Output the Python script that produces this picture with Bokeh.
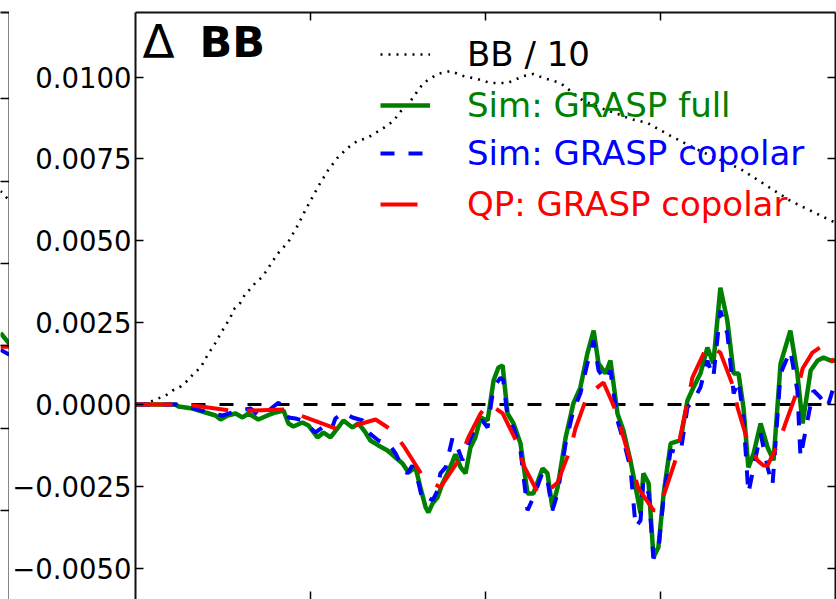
from bokeh.plotting import figure
from bokeh.models import (Range1d, LinearAxis, FixedTicker, Span, Legend, LegendItem,
                          Label, CustomJSTickFormatter)
from bokeh.layouts import row
from bokeh.embed import file_html
from bokeh.resources import INLINE

SCALE = 1e-4  # all series values below are in units of 1e-4

# ---- BB / 10 (dotted) ----
bb_ell = [0, 29, 57, 86, 106, 129, 149, 166, 186, 200, 214, 229, 243, 257, 271, 280, 300, 314,
          329, 343, 363, 406, 437, 463, 486, 500, 523, 551, 577, 606, 634, 663, 709, 737, 763,
          786, 806, 823, 863, 900, 937, 977, 1014, 1063, 1109, 1137, 1166, 1214, 1243, 1280,
          1329, 1377, 1414, 1463, 1529, 1614, 1729, 1871, 2000]
bb_val = [0, 0.30, 1.52, 2.74, 4.27, 5.49, 7.32, 9.45, 11.28, 14.03, 16.46, 18.90, 21.65, 24.09,
          26.53, 28.97, 31.10, 33.84, 35.37, 37.20, 39.03, 46.04, 49.70, 54.58, 59.46, 62.20,
          66.77, 71.65, 75.31, 78.36, 80.49, 81.41, 84.45, 86.59, 90.25, 92.69, 95.74, 98.18,
          100.92, 101.84, 100.31, 99.39, 98.18, 98.18, 100.31, 100.92, 99.70, 98.18, 95.74,
          92.69, 90.55, 88.72, 87.20, 85.98, 82.0, 77.4, 71.9, 62.2, 55.5]

# ---- Sim: GRASP full (green) ----
full_ell = [0, 114, 123, 163, 200, 229, 243, 263, 286, 306, 323, 351, 377, 400, 423, 437, 451,
            477, 494, 520, 537, 557, 577, 594, 620, 637, 657, 671, 694, 720, 743, 763, 780, 800,
            814, 829, 837, 849, 863, 877, 891, 906, 914, 929, 943, 957, 971, 986, 1006, 1023,
            1037, 1049, 1063, 1080, 1100, 1120, 1137, 1163, 1177, 1191, 1206, 1229, 1251, 1271,
            1291, 1309, 1323, 1343, 1357, 1377, 1394, 1414, 1429, 1443, 1451, 1466, 1480, 1494,
            1509, 1529, 1557, 1577, 1594, 1614, 1634, 1651, 1671, 1691, 1709, 1723, 1737, 1751,
            1766, 1786, 1806, 1823, 1843, 1871, 1891, 1906, 1929, 1949, 1966, 1986, 2000]
full_val = [0, 0, -0.61, -1.22, -2.44, -3.35, -4.57, -3.35, -2.74, -3.96, -2.74, -4.57, -3.35,
            -2.44, -1.83, -5.79, -6.71, -5.49, -6.40, -10.06, -8.54, -10.06, -7.32, -4.88,
            -7.01, -5.79, -8.54, -10.98, -12.50, -14.03, -16.16, -17.99, -20.73, -19.21, -25.30,
            -31.40, -32.93, -30.18, -28.35, -24.09, -21.04, -17.38, -15.24, -19.21, -21.04,
            -13.11, -10.06, -4.0, -4.88, 7.32, 11.28, 11.89, -2.74, -5.79, -11.89, -27.14,
            -27.14, -19.51, -21.04, -31.40, -25.30, -10.06, 0.30, 5.18, 15.55, 22.56, 12.50,
            9.45, 13.42, -2.74, -7.93, -17.07, -25.30, -33.23, -21.04, -24.09, -46.65, -43.60,
            -27.14, -11.89, -10.98, 1.22, 5.18, 9.45, 17.38, 12.50, 35.67, 25.61, 9.45, 9.45,
            -0.91, -19.21, -14.94, -5.79, -13.11, -17.07, 12.50, 22.56, 9.45, -5.79, 10.37,
            13.42, 14.33, 13.42, 13.42]

# ---- Sim: GRASP copolar (blue dashed) ----
cop_ell = [0, 123, 220, 249, 286, 329, 351, 380, 409, 437, 457, 477, 514, 534, 557, 571, 594,
           620, 649, 666, 694, 723, 743, 763, 777, 791, 809, 820, 834, 849, 863, 871, 886, 906,
           920, 934, 951, 971, 991, 1006, 1023, 1043, 1051, 1063, 1080, 1100, 1120, 1137, 1163,
           1177, 1191, 1206, 1229, 1251, 1271, 1291, 1309, 1323, 1343, 1357, 1377, 1394, 1414,
           1429, 1443, 1451, 1466, 1480, 1494, 1509, 1529, 1557, 1577, 1594, 1614, 1634, 1651,
           1671, 1691, 1709, 1723, 1737, 1751, 1766, 1786, 1806, 1820, 1843, 1871, 1891, 1900,
           1920, 1937, 1957, 1977, 2000]
cop_val = [0, 0, -2.74, -3.35, -2.13, -1.22, -3.35, -1.83, 0.61, -3.96, -4.27, -4.88, -8.54,
           -7.01, -8.54, -4.27, -2.44, -3.96, -4.88, -8.54, -10.98, -11.89, -14.94, -19.21,
           -21.04, -18.60, -24.09, -29.27, -28.35, -29.27, -26.22, -21.04, -19.21, -10.06,
           -13.11, -17.07, -11.89, -7.01, -4.88, -7.01, 5.18, 8.23, 7.32, -3.96, -7.01, -14.03,
           -32.32, -28.35, -20.73, -23.17, -32.32, -27.14, -11.89, -1.83, 3.35, 12.50, 19.51,
           10.37, 7.32, 10.37, -4.88, -10.98, -19.21, -37.50, -35.37, -23.17, -27.14, -46.95,
           -44.52, -28.35, -14.03, -14.94, -0.91, 1.22, 5.18, 13.42, 8.23, 28.66, 21.65, 3.35,
           7.32, -3.96, -27.14, -19.21, -8.84, -19.21, -24.70, 9.45, 16.46, 4.27, -16.16,
           -4.88, 4.27, 2.13, -0.91, 7.32]

# ---- QP: GRASP copolar (red long dashes) ----
qp_ell = [0, 109, 166, 271, 329, 429, 486, 580, 637, 686, 734, 769, 823, 871, 929, 951, 986,
          1009, 1049, 1094, 1109, 1149, 1166, 1206, 1243, 1257, 1291, 1337, 1366, 1391, 1420,
          1437, 1480, 1494, 1514, 1549, 1557, 1580, 1591, 1634, 1671, 1709, 1720, 1751, 1777,
          1794, 1806, 1837, 1857, 1891, 1906, 1934, 1963, 1994]
qp_val = [0, 0, -0.30, -1.83, -1.83, -1.52, -3.96, -7.62, -6.10, -4.57, -7.93, -13.11, -22.26,
          -25.30, -16.16, -10.06, -2.74, 0.30, -2.74, -12.50, -18.60, -26.83, -27.75, -23.78,
          -13.42, -7.32, 2.74, 6.71, -0.30, -8.84, -19.51, -25.61, -32.32, -32.32, -26.22,
          -14.94, -9.45, 2.13, 8.23, 17.99, 15.85, 5.18, -0.91, -11.89, -17.07, -18.60, -18.60,
          -11.89, -5.79, 4.27, 10.98, 15.85, 17.99, 12.81]

# ---- edge of the neighbouring panel (left) ----
nb_ell = [1975, 2000]
nb_bb = [47.0, 44.0]
nb_full = [3.9, 0.6]
nb_cop = [-1.2, -2.7]
nb_qp = [-0.3, -0.3]

y_ticks = [-0.005, -0.0025, 0.0, 0.0025, 0.005, 0.0075, 0.01]
x_ticks = [500, 1000, 1500]
nb_y_ticks = [-0.005, -0.0025, 0.0, 0.0025, 0.005, 0.0075]

labels = ["BB / 10", "Sim: GRASP full", "Sim: GRASP copolar", "QP: GRASP copolar"]
label_colors = ["black", "#008000", "#0000ff", "#ff0000"]

FONT = "DejaVu Sans"


def sc(vals):
    return [v * SCALE for v in vals]


fmt = CustomJSTickFormatter(code="""
const s = Math.abs(tick).toFixed(4);
return (tick < -1e-12 ? "\\u2212" : "") + s;
""")


def blank():
    return CustomJSTickFormatter(code="return '';")


def style_axis(ax, show_labels):
    ax.major_tick_in = 8
    ax.major_tick_out = 0
    ax.minor_tick_in = 0
    ax.minor_tick_out = 0
    ax.major_tick_line_width = 1.5
    ax.major_tick_line_color = "black"
    ax.axis_line_width = 2
    ax.axis_line_color = "#111111"
    if show_labels:
        ax.major_label_text_font = FONT
        ax.major_label_text_font_size = "27.5px"
        ax.major_label_text_color = "black"
        ax.major_label_standoff = 4
    else:
        ax.formatter = blank()
        ax.major_label_standoff = 0


# ---------------- main panel ----------------
p = figure(width=827, height=599, x_range=Range1d(0, 2000), y_range=Range1d(-0.005954, 0.01197),
           output_backend="svg", toolbar_location=None,
           min_border_left=126, min_border_right=1, min_border_top=12, min_border_bottom=0,
           x_axis_location=None, y_axis_location=None)
p.outline_line_color = None
p.background_fill_color = "white"
p.border_fill_color = "white"
p.grid.grid_line_color = None

left = LinearAxis(ticker=FixedTicker(ticks=y_ticks), formatter=fmt)
style_axis(left, True)
p.add_layout(left, "left")

right = LinearAxis(ticker=FixedTicker(ticks=y_ticks))
style_axis(right, False)
p.add_layout(right, "right")

top = LinearAxis(ticker=FixedTicker(ticks=x_ticks))
style_axis(top, False)
p.add_layout(top, "above")

bottom = LinearAxis(ticker=FixedTicker(ticks=x_ticks))
style_axis(bottom, False)
bottom.axis_line_color = None
p.add_layout(bottom, "below")

zero = Span(location=0, dimension="width", line_color="black", line_width=3,
            line_dash="14 14", level="underlay")
p.add_layout(zero)

r_bb = p.line(bb_ell, sc(bb_val), line_color="black", line_width=2.6, line_dash="2 6")
r_full = p.line(full_ell, sc(full_val), line_color="#008000", line_width=4.5)
r_cop = p.line(cop_ell, sc(cop_val), line_color="#0000ff", line_width=4, line_dash="14 14")
r_qp = p.line(qp_ell, sc(qp_val), line_color="#ff0000", line_width=4, line_dash="37 19")

renders = [r_bb, r_full, r_cop, r_qp]
centers = [545, 494, 446, 395]  # frame-relative row centres
for rend, lab, col, cy in zip(renders, labels, label_colors, centers):
    leg = Legend(items=[LegendItem(label=lab, renderers=[rend])], location=(245, cy - 20),
                 glyph_width=50, glyph_height=40, label_standoff=37, padding=0, margin=0,
                 spacing=0, border_line_alpha=0, background_fill_alpha=0,
                 label_text_font=FONT, label_text_font_size="34px", label_text_color=col)
    p.add_layout(leg)

p.add_layout(Label(x=7, y=558, x_units="screen", y_units="screen", text="\u0394",
                   text_font=FONT, text_font_size="47px", text_baseline="alphabetic",
                   text_color="black"))
p.add_layout(Label(x=64, y=558, x_units="screen", y_units="screen", text="BB",
                   text_font=FONT, text_font_size="43px", text_font_style="bold",
                   text_baseline="alphabetic", text_color="black"))

# ---------------- neighbouring panel edge ----------------
q = figure(width=9, height=599, x_range=Range1d(1975, 2000), y_range=Range1d(-0.0077, 0.01012),
           output_backend="svg", toolbar_location=None,
           min_border_left=0, min_border_right=0, min_border_top=11, min_border_bottom=0,
           x_axis_location=None, y_axis_location=None)
q.outline_line_color = None
q.border_fill_color = "white"
q.grid.grid_line_color = None
qr = LinearAxis(ticker=FixedTicker(ticks=nb_y_ticks))
style_axis(qr, False)
qr.major_tick_in = 9
q.add_layout(qr, "right")
qt = LinearAxis(ticker=FixedTicker(ticks=[]))
style_axis(qt, False)
q.add_layout(qt, "above")
q.line(nb_ell, sc(nb_bb), line_color="black", line_width=2.6, line_dash="2 6")
q.line(nb_ell, sc(nb_full), line_color="#008000", line_width=4.5)
q.line(nb_ell, sc(nb_cop), line_color="#0000ff", line_width=4, line_dash="14 14")
q.line(nb_ell, sc(nb_qp), line_color="#ff0000", line_width=4)

layout = row(q, p, spacing=0)
open("out.html", "w").write(file_html(layout, INLINE))
